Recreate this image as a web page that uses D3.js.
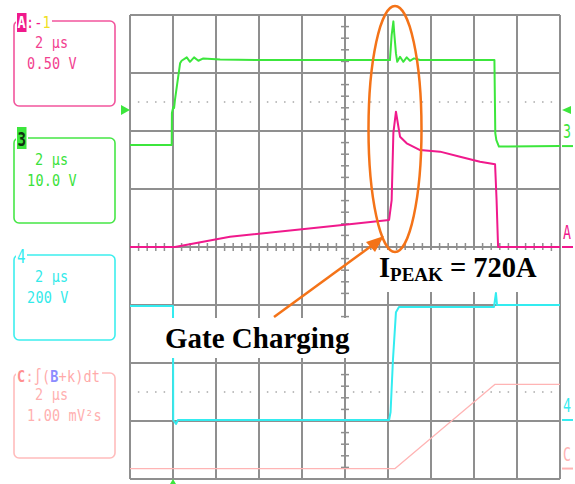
<!DOCTYPE html>
<html><head><meta charset="utf-8">
<script src="https://cdn.jsdelivr.net/npm/d3@7"></script>
<style>html,body{margin:0;padding:0;background:#fff;overflow:hidden}</style>
</head><body><svg id="c" width="575" height="484"></svg>
<script>
// ---------------- data ----------------
const timeDomain = [0, 20];            // µs  (2 µs / div)
const divDomain = [-4, 4];             // vertical divisions

// Channel 3 : gate voltage (10 V/div)
const ch3T = [0, 1.94, 1.95, 2.01, 2.05, 2.09, 2.20, 2.33, 2.40, 2.64, 2.79, 2.98, 3.18, 3.41, 4.19, 6.05, 7.91, 9.77, 12.0,
  12.09, 12.17, 12.25, 12.29, 12.37, 12.43, 12.56, 12.71, 12.87, 13.02, 13.21, 13.49, 16.95, 16.99, 17.04, 17.16, 20];
const ch3V = [0.2, 0.2, 5.69, 6.72, 6.55, 7.93, 10.86, 14.26, 14.71, 15.29, 14.53, 15.29, 14.71, 15.12, 14.91, 14.83, 14.83, 14.83, 14.83,
  14.83, 19.14, 21.5, 19.48, 15.98, 14.53, 15.40, 14.53, 15.29, 14.71, 15.12, 14.83, 14.83, 2.24, 1.03, -0.09, 0];

// Channel A : current (0.50 V/div)
const chAT = [0, 2.09, 4.65, 8.0, 9.77, 12.05, 12.17, 12.25, 12.37, 12.47, 12.56, 12.87, 13.49, 14.42, 15.35, 16.28, 16.98, 17.05, 17.12, 20];
const chAV = [0, 0, 0.089, 0.153, 0.187, 0.233, 0.405, 0.983, 1.166, 1.052, 0.951, 0.894, 0.836, 0.822, 0.778, 0.735, 0.713, 0.405, 0, 0];

// Channel 4 : drain voltage (200 V/div)
const ch4T = [0, 2.0, 2.01, 2.14, 2.23, 12.05, 12.12, 12.23, 12.37, 12.51, 16.93, 17.02, 17.07, 20];
const ch4V = [393, 393, 0, -13.8, 0, 0, 27.6, 207, 372, 390, 390, 438, 397, 397];

// Channel C : ∫(B+k)dt (1.00 mV²s/div)
const chCT = [0, 12.33, 16.98, 20];
const chCV = [0, 0, 1.452, 1.452];

const triggerLevel = 6.2;   // V on channel 3
const triggerTime = 2;      // µs

const panelHeads = ["A:-1", "3", "4", "C:∫(B+k)dt"];
const panelTime = ["2 µs", "2 µs", "2 µs", "2 µs"];
const panelScale = ["0.50 V", "10.0 V", "200 V", "1.00 mV²s"];
const sideLabels = ["3", "A", "4", "C"];
const annoGate = "Gate Charging";
const annoPeak = ["I", "PEAK", " = 720A"];

// ---------------- drawing ----------------
const svg = d3.select('#c');
const x = d3.scaleLinear(timeDomain, [130, 560]);
const yDiv = d3.scaleLinear(divDomain, [479, 15]);
const chan = (offset, perDiv) => d3.scaleLinear([0, perDiv], [yDiv(offset), yDiv(offset + 1)]);
const y3 = chan(1.74, 10), yA = chan(0, 0.5), y4 = chan(-2.983, 200), yC = chan(-3.82, 1);

const GRID = "#8f8f8f";
const PINK = "#f0198c", GREEN = "#3ce63c", CYAN = "#33ecf0", LPINK = "#ffb4b4";

// grid
const g = svg.append('g');
g.selectAll('line.v').data(x.ticks(10)).join('line')
  .attr('x1', d => x(d)).attr('x2', d => x(d)).attr('y1', yDiv(4)).attr('y2', yDiv(-4))
  .attr('stroke', GRID).attr('stroke-width', 2);
g.selectAll('line.h').data(yDiv.ticks(8)).join('line')
  .attr('y1', d => yDiv(d)).attr('y2', d => yDiv(d)).attr('x1', x(0)).attr('x2', x(20))
  .attr('stroke', GRID).attr('stroke-width', 2);
// minor ticks on centre axes
const minorX = d3.range(0, 20.01, 0.4);
g.selectAll('line.mx').data(minorX).join('line')
  .attr('x1', d => x(d)).attr('x2', d => x(d)).attr('y1', yDiv(0) - 4).attr('y2', yDiv(0) + 4)
  .attr('stroke', GRID).attr('stroke-width', 1.5);
const minorY = d3.range(-4, 4.01, 0.2);
g.selectAll('line.my').data(minorY).join('line')
  .attr('y1', d => yDiv(d)).attr('y2', d => yDiv(d)).attr('x1', x(10) - 4).attr('x2', x(10) + 4)
  .attr('stroke', GRID).attr('stroke-width', 1.5);
// dotted graticule at ±2.5 div
const dotsX = minorX.filter(d => Math.abs(d / 2 - Math.round(d / 2)) > 0.01);
[2.5, -2.5].forEach(lv => {
  g.append('g').selectAll('rect').data(dotsX).join('rect')
    .attr('x', d => x(d) - 0.75).attr('y', yDiv(lv) - 0.75).attr('width', 1.5).attr('height', 1.5)
    .attr('fill', '#a8a8a8');
});

// traces
function trace(T, V, ys, color, w) {
  const pts = T.map((t, i) => [t, V[i]]);
  svg.append('path').datum(pts)
    .attr('d', d3.line().x(d => x(d[0])).y(d => ys(d[1])))
    .attr('fill', 'none').attr('stroke', color).attr('stroke-width', w)
    .attr('stroke-linejoin', 'round');
}
trace(chCT, chCV, yC, LPINK, 1.3);
trace(ch4T, ch4V, y4, CYAN, 2);
trace(chAT, chAV, yA, PINK, 2);
trace(ch3T, ch3V, y3, GREEN, 2);

// markers
const mono = "DejaVu Sans Mono";
svg.append('path').attr('d', `M121,${y3(triggerLevel) - 5}L130,${y3(triggerLevel)}L121,${y3(triggerLevel) + 5}Z`).attr('fill', GREEN);
svg.append('path').attr('d', `M571,${y3(triggerLevel) - 4}L562,${y3(triggerLevel)}L571,${y3(triggerLevel) + 4}Z`).attr('fill', GREEN);
svg.append('path').attr('d', `M${x(triggerTime)},479L${x(triggerTime) - 3},484L${x(triggerTime) + 3},484Z`).attr('fill', GREEN);
const sideScales = [y3, yA, y4, yC];
const sideColors = [GREEN, PINK, CYAN, LPINK];
sideLabels.forEach((s, i) => {
  const gy = sideScales[i](0);
  svg.append('line').attr('x1', 562).attr('x2', 573).attr('y1', gy).attr('y2', gy)
    .attr('stroke', sideColors[i]).attr('stroke-width', 2);
  svg.append('text').text(s).attr('x', 563).attr('y', gy - 8)
    .attr('font-family', mono).attr('font-size', 19).attr('textLength', 8).attr('lengthAdjust', 'spacingAndGlyphs')
    .attr('fill', sideColors[i]);
});

// per-character monospace helper (fixed 8.3 px pitch, glyphs stretched vertically)
function charRow(str, x0, yb, styleFn) {
  Array.from(str).forEach((ch, k) => {
    const cx = x0 + 8.3 * k + 4.15;
    const t = svg.append('text').text(ch).attr('x', 0).attr('y', 0)
      .attr('text-anchor', 'middle').attr('font-family', mono).attr('font-size', 13.5)
      .attr('transform', `translate(${cx},${yb}) scale(1,1.2)`);
    styleFn(t, k);
  });
}

// left panels
const panelTop = [21, 138, 255, 373];
const panelColors = ["#f2559d", "#46e646", "#3deeee", "#ffbcbc"];
const textColors = ["#f2408f", "#3ae23a", "#33eaea", "#ffb0b0"];
panelTop.forEach((top, i) => {
  svg.append('rect').attr('x', 14).attr('y', top).attr('width', 101).attr('height', 85).attr('rx', 5)
    .attr('fill', 'none').attr('stroke', panelColors[i]).attr('stroke-width', 1.6);
  charRow(panelTime[i], 35, top + 27, t => t.attr('fill', textColors[i]));
  charRow(panelScale[i], 27, top + 48, t => t.attr('fill', textColors[i]));
});
// header A
svg.append('rect').attr('x', 16).attr('y', 12).attr('width', 36).attr('height', 20).attr('fill', '#fff');
svg.append('rect').attr('x', 17).attr('y', 13).attr('width', 9.5).attr('height', 19).attr('fill', PINK);
charRow(panelHeads[0], 17.5, 28, (t, k) => {
  if (k === 0) t.attr('fill', '#fff').attr('font-weight', 'bold');
  else if (k === 3) t.attr('fill', '#f0e020');
  else t.attr('fill', PINK);
});
// header 3
svg.append('rect').attr('x', 16).attr('y', 126).attr('width', 12).attr('height', 24).attr('fill', '#fff');
svg.append('rect').attr('x', 17).attr('y', 127).attr('width', 9.5).attr('height', 22).attr('fill', GREEN);
svg.append('text').text(panelHeads[1]).attr('x', 17.5).attr('y', 146).attr('font-family', mono).attr('font-size', 20)
  .attr('font-weight', 'bold').attr('fill', '#103010').attr('textLength', 8.5).attr('lengthAdjust', 'spacingAndGlyphs');
// header 4
svg.append('rect').attr('x', 16).attr('y', 246).attr('width', 11).attr('height', 18).attr('fill', '#fff');
svg.append('text').text(panelHeads[2]).attr('x', 17).attr('y', 263).attr('font-family', mono).attr('font-size', 19)
  .attr('fill', CYAN).attr('textLength', 8.5).attr('lengthAdjust', 'spacingAndGlyphs');
// header C
svg.append('rect').attr('x', 16).attr('y', 366).attr('width', 86).attr('height', 18).attr('fill', '#fff');
charRow(panelHeads[3], 17, 382, (t, k) => {
  if (k === 0) t.attr('fill', '#ff8f8f').attr('font-weight', 'bold');
  else if (k === 4) t.attr('fill', '#8c8cff').attr('font-weight', 'bold');
  else t.attr('fill', '#ffaaaa');
});

// annotations
const serif = "Liberation Serif";
svg.append('rect').attr('x', 158).attr('y', 318).attr('width', 200).attr('height', 40).attr('fill', '#fff');
svg.append('text').text(annoGate).attr('x', 165).attr('y', 348)
  .attr('font-family', serif).attr('font-weight', 'bold').attr('font-size', 29).attr('fill', '#000');
svg.append('rect').attr('x', 368).attr('y', 250).attr('width', 180).attr('height', 42).attr('fill', '#fff');
const tp = svg.append('text').attr('x', 379).attr('y', 277)
  .attr('font-family', serif).attr('font-weight', 'bold').attr('fill', '#000');
tp.append('tspan').text(annoPeak[0]).attr('font-size', 28.5);
tp.append('tspan').text(annoPeak[1]).attr('font-size', 19).attr('dy', 4);
tp.append('tspan').text(annoPeak[2]).attr('font-size', 28.5).attr('dy', -4);

const ORANGE = "#f47318";
svg.append('ellipse').attr('cx', 395).attr('cy', 129).attr('rx', 26.5).attr('ry', 123)
  .attr('fill', 'none').attr('stroke', ORANGE).attr('stroke-width', 2.5);
svg.append('line').attr('x1', 274).attr('y1', 317).attr('x2', 374).attr('y2', 244)
  .attr('stroke', ORANGE).attr('stroke-width', 2.5);
svg.append('path').attr('d', 'M384,236L366,242L375,252Z').attr('fill', ORANGE);
</script></body></html>
